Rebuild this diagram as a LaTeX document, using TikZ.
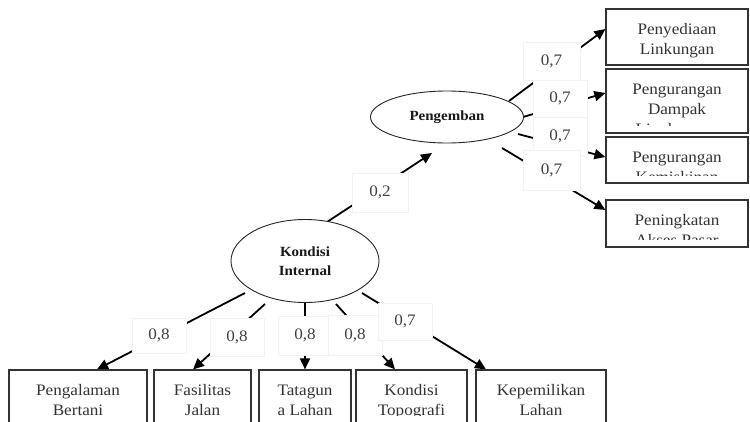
\documentclass[tikz,border=0pt]{standalone}
\usepackage{fontspec}
\setmainfont{Liberation Serif}[FakeStretch=1.07]
\usetikzlibrary{arrows.meta,shapes.geometric,calc,backgrounds}
\begin{document}
\begin{tikzpicture}[x=1pt,y=-1pt,
  every node/.style={inner sep=0pt},
  txt/.style={font=\fontsize{16}{20}\selectfont, text=black!80, align=center,
    minimum width=0pt, minimum height=0pt},
  lv/.style={ellipse, draw=black!85, line width=0.9pt, fill=white, text=black!90,
    font=\bfseries\fontsize{14}{19}\selectfont, align=center},
  ind/.style={rectangle, draw=black!80, line width=1.2pt},
  tb/.style n args={3}{path picture={
    \clip (path picture bounding box.north west) rectangle ([yshift=#2pt]path picture bounding box.south east);
    \node[txt,anchor=north] (#1) at ([yshift=-14pt]path picture bounding box.north) {#3};}},
  conn/.style={line width=1.8pt, -{Triangle[length=11pt,width=10pt]}},
  lab/.style={rectangle, fill=white, draw=black!5, line width=0.4pt,
    font=\fontsize{16}{20}\selectfont, text=black!75},
]
\clip (0,0) rectangle (750,421);

% latent variables
\node[lv, minimum width=148, minimum height=83] (ki) at (305,261) {Kondisi\\Internal};
\node[lv, minimum width=153, minimum height=52] (pe) at (447,117) {Pengemban};

% indicators right
\node[ind, minimum width=142, minimum height=56, tb={t1}{8}{Penyediaan\\Linkungan}] (b1) at (677,37) {};
\node[ind, minimum width=142, minimum height=64, tb={t2}{8}{Pengurangan\\Dampak\\Lingkungan}] (b2) at (677,101) {};
\node[ind, minimum width=142, minimum height=46, tb={t3}{8}{Pengurangan\\Kemiskinan}] (b3) at (677,160) {};
\node[ind, minimum width=142, minimum height=47, tb={t4}{8}{Peningkatan\\Akses Pasar}] (b4) at (677,223.5) {};

% indicators bottom
\node[ind, minimum width=138, minimum height=70, tb={u1}{25}{Pengalaman\\Bertani}] (c1) at (78,405) {};
\node[ind, minimum width=97, minimum height=70, tb={u2}{25}{Fasilitas\\Jalan}] (c2) at (202.5,405) {};
\node[ind, minimum width=92, minimum height=70, tb={u3}{25}{Tatagun\\a Lahan}] (c3) at (305,405) {};
\node[ind, minimum width=111, minimum height=70, tb={u4}{25}{Kondisi\\Topografi}] (c4) at (411.5,405) {};
\node[ind, minimum width=130, minimum height=70, tb={u5}{25}{Kepemilikan\\Lahan}] (c5) at (541,405) {};

% connectors
\begin{scope}[on background layer]
\fill[white] (0,0) rectangle (750,421);
\draw[conn] ($(ki)+(22,-39)$) -- ($(pe)+(-15,36)$);
\draw[conn] ($(pe)+(62,-16)$) -- ($(b1.west)+(0,-8)$);
\draw[conn] ($(pe)+(76,0)$) -- ($(b2.west)+(0,-8)$);
\draw[conn] ($(pe)+(71,17)$) -- ($(b3.west)+(0,-3)$);
\draw[conn] ($(pe)+(55,31)$) -- ($(b4.west)+(0,-13.5)$);
\draw[conn] ($(ki)+(-60,32)$) -- ($(c1.north)+(19,0)$);
\draw[conn] ($(ki)+(-40,43)$) -- ($(c2.north)+(-9.5,0)$);
\draw[conn] ($(ki)+(0,42)$) -- (c3.north);
\draw[conn] ($(ki)+(31,43)$) -- ($(c4.north)+(-16.5,0)$);
\draw[conn] ($(ki)+(57,32)$) -- ($(c5.north)+(-55,0)$);
\end{scope}

% loading labels
\node[lab, minimum width=56, minimum height=39] (l02) at (380,192.5) {0,2};
\node[lab, minimum width=57, minimum height=38] (lr1) at (551.5,61) {0,7};
\node[lab, minimum width=54, minimum height=37] (lr2) at (560,98.5) {0,7};
\node[lab, minimum width=54, minimum height=38] (lr3) at (560,136) {0,7};
\node[lab, minimum width=57, minimum height=40] (lr4) at (551.5,170) {0,7};
\node[lab, minimum width=54, minimum height=35] (l1) at (159,335.5) {0,8};
\node[lab, minimum width=54, minimum height=38] (l2) at (237,337) {0,8};
\node[lab, minimum width=54, minimum height=39] (l3) at (305,335.5) {0,8};
\node[lab, minimum width=54, minimum height=40] (l4) at (355,335) {0,8};
\node[lab, minimum width=54, minimum height=37] (l5) at (405,321.5) {0,7};
\end{tikzpicture}
\end{document}
